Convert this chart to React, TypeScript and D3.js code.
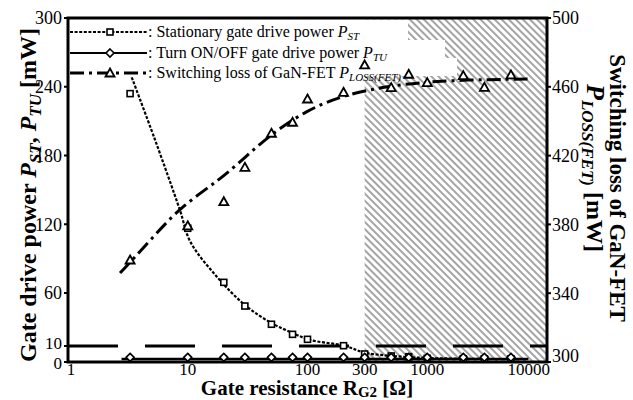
import React from "react";
import * as d3 from "d3";

// ---------- data ----------
const resistance = [3.3, 10, 20, 30, 50, 75, 100, 200, 300, 500, 700, 1000, 2000, 3000, 5000];
const pstValues = [234, 116.5, 69.3, 47.7, 30.5, 21, 16.3, 10.3, 5, 3.75, 3.3, 2.3, 2, 2, 2];
const ptuValues = [2.9, 2.9, 2.9, 2.9, 2.9, 2.9, 2.9, 2.9, 2.9, 2.9, 2.9, 2.9, 2.9, 2.9, 2.9];
const plossValues = [359.3, 379.2, 393.2, 413.2, 433, 439.4, 452.9, 456.8, 472.7, 459.5, 467.3, 462.4, 466.5, 459.7, 466.9];

const pstFitR = [3.3, 5.3, 8.6, 10.5, 17.5, 30, 50.5, 76, 105, 202, 302, 520, 1000, 6800];
const pstFitV = [252, 194.4, 132.4, 104.8, 74.2, 48.7, 31.4, 22, 15.7, 10.3, 5.8, 3.75, 2.5, 1.7];
const ptuFitR = [2.8, 7000];
const ptuFitV = [1.8, 1.8];
const plossFitR = [2.72, 4.84, 8.6, 18.6, 30.1, 48.7, 99, 200, 509, 1560, 6970];
const plossFitV = [351.7, 370.5, 390, 406, 419, 432, 446.5, 455.2, 461, 464, 464.5];

const xTicks = [1, 10, 100, 300, 1000, 10000];
const leftTicks = [0, 10, 60, 120, 180, 240, 300];
const rightTicks = [300, 340, 380, 420, 460, 500];
const referenceLevel = 10; // mW dashed line
const shadeFrom = 300; // ohm

// ---------- layout ----------
const W = 633, H = 400;
const L = 68, R = 547, T = 18, B = 362;
const FONT = "Liberation Serif";

const x = d3.scaleLog().domain([1, 10000]).range([L, R]);
const yL = d3.scaleLinear().domain([0, 10, 60, 300]).range([B, 346, 293, T]);
const yR = d3.scaleLinear().domain([300, 500]).range([B, T]);

const lineL = d3.line<[number, number]>().x(d => x(d[0])).y(d => yL(d[1])).curve(d3.curveCatmullRom.alpha(0.5));
const lineR = d3.line<[number, number]>().x(d => x(d[0])).y(d => yR(d[1])).curve(d3.curveBasis);
const zip = (a: number[], b: number[]) => a.map((v, i) => [v, b[i]] as [number, number]);

const Square = ({ cx, cy }: { cx: number; cy: number }) => (
  <rect x={cx - 3} y={cy - 3} width={6} height={6} fill="white" stroke="black" strokeWidth={1.6} />
);
const Diamond = ({ cx, cy }: { cx: number; cy: number }) => (
  <path d={`M${cx},${cy - 4}L${cx + 4},${cy}L${cx},${cy + 4}L${cx - 4},${cy}Z`} fill="white" stroke="black" strokeWidth={1.6} />
);
const Tri = ({ cx, cy }: { cx: number; cy: number }) => (
  <path d={`M${cx},${cy - 4.5}L${cx + 4.5},${cy + 3.5}L${cx - 4.5},${cy + 3.5}Z`} fill="white" stroke="black" strokeWidth={1.8} />
);

const PST_DASH = "3 1.6";
const PLOSS_DASH = "14 5 3 5";

export default function App() {
  const xs = x(shadeFrom);
  return (
    <svg width={W} height={H} fontFamily={FONT} style={{ position: "absolute", left: 0, top: 0, background: "white" }}>
      <defs>
        <pattern id="hatch" patternUnits="userSpaceOnUse" width={5} height={5} patternTransform="rotate(-45)">
          <line x1={1} y1={-1} x2={1} y2={6} stroke="#a4a4a4" strokeWidth={2} />
        </pattern>
      </defs>
      <rect x={0} y={0} width={W} height={H} fill="white" />
      {/* shaded region */}
      <rect x={xs} y={T} width={R - xs} height={B - T} fill="url(#hatch)" />

      {/* 10 mW reference line */}
      <line x1={L} x2={R} y1={yL(referenceLevel)} y2={yL(referenceLevel)} stroke="black" strokeWidth={3} strokeDasharray="50 27" />

      {/* fitted curves */}
      <path d={lineL(zip(ptuFitR, ptuFitV)) || ""} fill="none" stroke="black" strokeWidth={2.5} />
      <path d={lineL(zip(pstFitR, pstFitV)) || ""} fill="none" stroke="black" strokeWidth={2.2} strokeDasharray={PST_DASH} />
      <path d={lineR(zip(plossFitR, plossFitV)) || ""} fill="none" stroke="black" strokeWidth={3} strokeDasharray={PLOSS_DASH} />

      {/* legend backgrounds */}
      <rect x={70} y={T + 1.5} width={408 - 70} height={40 - T - 1.5} fill="white" />
      <rect x={70} y={40} width={445 - 70} height={18} fill="white" />
      <rect x={70} y={58} width={457 - 70} height={18} fill="white" />

      {/* markers */}
      {resistance.map((r, i) => <Square key={"s" + i} cx={x(r)} cy={yL(pstValues[i])} />)}
      {resistance.map((r, i) => <Diamond key={"d" + i} cx={x(r)} cy={yL(ptuValues[i])} />)}
      {resistance.map((r, i) => <Tri key={"t" + i} cx={x(r)} cy={yR(plossValues[i])} />)}

      {/* legend */}
      <g fontSize={16} fontFamily={FONT}>
        <line x1={70} x2={147} y1={32} y2={32} stroke="black" strokeWidth={2.2} strokeDasharray={PST_DASH} />
        <Square cx={110} cy={32} />
        <text x={148} y={37} fontFamily={FONT}>: Stationary gate drive power <tspan fontStyle="italic">P</tspan><tspan fontStyle="italic" fontSize={11} dy={3}>ST</tspan></text>
        <line x1={70} x2={147} y1={53} y2={53} stroke="black" strokeWidth={2} />
        <Diamond cx={110} cy={53} />
        <text x={148} y={58} fontFamily={FONT}>: Turn ON/OFF gate drive power <tspan fontStyle="italic">P</tspan><tspan fontStyle="italic" fontSize={11} dy={3}>TU</tspan></text>
        <line x1={70} x2={147} y1={73} y2={73} stroke="black" strokeWidth={3} strokeDasharray={PLOSS_DASH} />
        <Tri cx={110} cy={73} />
        <text x={148} y={78} fontFamily={FONT}>: Switching loss of GaN-FET <tspan fontStyle="italic">P</tspan><tspan fontStyle="italic" fontSize={11} dy={3}>LOSS(FET)</tspan></text>
      </g>

      {/* frame */}
      <rect x={L} y={T} width={R - L} height={B - T} fill="none" stroke="black" strokeWidth={3} />

      {/* axes */}
      <g fontSize={18} fontFamily={FONT}>
        {leftTicks.map(t => (
          <g key={"l" + t}>
            <line x1={L - 4} x2={L} y1={yL(t)} y2={yL(t)} stroke="black" strokeWidth={2} />
            <text x={L - 6} y={yL(t)} dy={t === 10 ? "0.2em" : t === 0 ? "0.4em" : "0.35em"} textAnchor="end" fontFamily={FONT} fontSize={t <= 10 ? 17 : 18}>{t}</text>
          </g>
        ))}
        {rightTicks.map(t => (
          <g key={"r" + t}>
            <line x1={R} x2={R + 4} y1={yR(t)} y2={yR(t)} stroke="black" strokeWidth={2} />
            <text x={R + 5} y={yR(t)} dy={t === 300 ? "0.0em" : "0.35em"} textAnchor="start" fontFamily={FONT}>{t}</text>
          </g>
        ))}
        {xTicks.map(t => (
          <text key={"x" + t} x={x(t) + (t === 1 ? 3 : 0)} y={375} fontSize={17} textAnchor={t === 10000 ? "end" : "middle"} dx={t === 10000 ? 3 : 0} fontFamily={FONT}>{t}</text>
        ))}
      </g>

      {/* axis titles */}
      <text transform="translate(36,195) rotate(-90)" textAnchor="middle" fontWeight="bold" fontSize={24} fontFamily={FONT}>
        Gate drive power <tspan fontStyle="italic">P</tspan><tspan fontStyle="italic" fontSize={17} dy={5}>ST</tspan><tspan dy={-5}>, </tspan><tspan fontStyle="italic">P</tspan><tspan fontStyle="italic" fontSize={17} dy={5}>TU</tspan><tspan dy={-5}> [mW]</tspan>
      </text>
      <text x={307} y={395} textAnchor="middle" fontWeight="bold" fontSize={21} fontFamily={FONT}>
        Gate resistance R<tspan fontSize={15} dy={2}>G2</tspan><tspan dy={-2}> [Ω]</tspan>
      </text>
      <text transform="translate(610,188) rotate(90)" textAnchor="middle" fontWeight="bold" fontSize={23} fontFamily={FONT}>
        Switching loss of GaN-FET
      </text>
      <text transform="translate(587,168) rotate(90)" textAnchor="middle" fontWeight="bold" fontSize={24} fontFamily={FONT}>
        <tspan fontStyle="italic" fontSize={26}>P</tspan><tspan fontStyle="italic" fontSize={17} dy={5}>LOSS(FET)</tspan><tspan dy={-5}> [mW]</tspan>
      </text>
    </svg>
  );
}
